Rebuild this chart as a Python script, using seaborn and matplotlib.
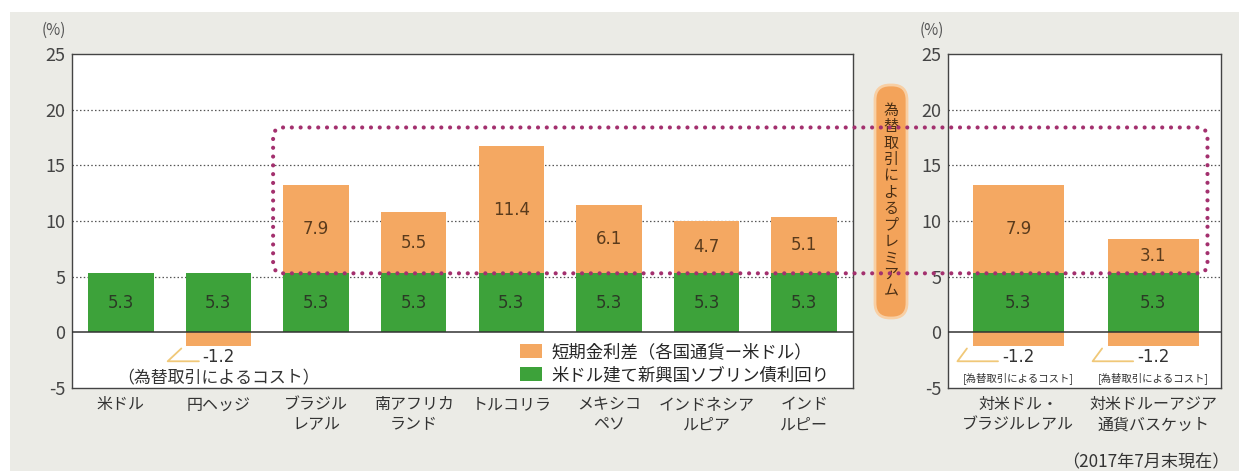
import matplotlib
matplotlib.use("Agg")
import matplotlib.pyplot as plt
import seaborn as sns
import pandas as pd
from matplotlib.patches import FancyBboxPatch, Rectangle, Patch
from matplotlib.transforms import IdentityTransform

# ---------------- data ----------------
left_categories = ["米ドル", "円ヘッジ", "ブラジル\nレアル", "南アフリカ\nランド", "トルコリラ",
                   "メキシコ\nペソ", "インドネシア\nルピア", "インド\nルピー"]
left_yield = [5.3, 5.3, 5.3, 5.3, 5.3, 5.3, 5.3, 5.3]
left_spread = [0.0, 0.0, 7.9, 5.5, 11.4, 6.1, 4.7, 5.1]
left_cost = [0.0, -1.2, 0.0, 0.0, 0.0, 0.0, 0.0, 0.0]

right_categories = ["対米ドル・\nブラジルレアル", "対米ドルーアジア\n通貨バスケット"]
right_yield = [5.3, 5.3]
right_spread = [7.9, 3.1]
right_cost = [-1.2, -1.2]

yticks = [-5, 0, 5, 10, 15, 20, 25]
grid_levels = [5, 10, 15, 20]
legend_labels = ["短期金利差（各国通貨ー米ドル）", "米ドル建て新興国ソブリン債利回り"]
cost_label_left = "（為替取引によるコスト）"
cost_label_right = "[為替取引によるコスト]"
premium_label = "為替取引によるプレミアム"
date_label = "（2017年7月末現在）"

GREEN = "#3da23a"
ORANGE = "#f4a862"
BG = "#ebebe6"

sns.set_style("white")
plt.rcParams["font.family"] = ["Noto Sans CJK JP", "DejaVu Sans"]
plt.rcParams["axes.unicode_minus"] = False

W, H = 1239, 471
fig = plt.figure(figsize=(W / 100, H / 100), dpi=100)
fig.patch.set_facecolor("white")
fig.add_artist(Rectangle((10 / W, 0), 1 - 10 / W, 1 - 12 / H, transform=fig.transFigure,
                         facecolor=BG, edgecolor="none", zorder=-5))

ax1 = fig.add_axes([72 / W, 1 - 388 / H, (853 - 72) / W, (388 - 54) / H])
ax2 = fig.add_axes([948 / W, 1 - 388 / H, (1221 - 948) / W, (388 - 54) / H])


def draw_panel(ax, cats, yld, spread, cost, xlim, cost_text, cost_fs, lead):
    df = pd.DataFrame({"cat": cats, "yield": yld, "spread": spread, "cost": cost})
    df["total"] = df["yield"] + df["spread"]
    kw = dict(x="cat", width=0.67, saturation=1, errorbar=None, ax=ax, linewidth=0)
    sns.barplot(data=df, y="total", color=ORANGE, zorder=2, **kw)
    sns.barplot(data=df, y="cost", color=ORANGE, zorder=2, **kw)
    sns.barplot(data=df, y="yield", color=GREEN, zorder=3, **kw)
    ax.set_xlim(*xlim)
    ax.set_ylim(yticks[0], yticks[-1])
    ax.set_yticks(yticks)
    ax.set_xlabel("")
    ax.set_ylabel("")
    for g in grid_levels:
        ax.axhline(g, color="#555555", lw=0.9, ls=(0, (1.2, 1.8)), zorder=1)
    ax.axhline(0, color="#333333", lw=1.1, zorder=4)
    for s in ax.spines.values():
        s.set_visible(True)
        s.set_color("#444444")
        s.set_linewidth(1.0)
    ax.tick_params(axis="y", labelsize=13, labelcolor="#444444", length=3, color="#444444", pad=2)
    ax.tick_params(axis="x", labelsize=11.5, labelcolor="#333333", length=0, pad=6)
    for lab in ax.get_xticklabels():
        lab.set_linespacing(1.25)
    for i, row in df.iterrows():
        ax.text(i, row["yield"] / 2, f"{row['yield']:.1f}", ha="center", va="center",
                fontsize=12, color="#2b3a25", family="DejaVu Sans", zorder=5)
        if row["spread"] > 0:
            ax.text(i, row["yield"] + row["spread"] / 2, f"{row['spread']:.1f}", ha="center",
                    va="center", fontsize=12, color="#5a3b1c", family="DejaVu Sans", zorder=5)
        if row["cost"] < 0:
            ax.text(i, row["cost"] - 1.05, f"{row['cost']:.1f}", ha="center", va="center",
                    fontsize=12, color="#333333", family="DejaVu Sans", zorder=5)
            ax.plot([i - lead[0], i - lead[1], i - lead[2]], [row["cost"] - 1.4, row["cost"] - 1.4,
                    row["cost"] - 0.25], color="#f0c878", lw=1.3, zorder=5)
            ax.text(i, row["cost"] - 2.9, cost_text, ha="center", va="center",
                    fontsize=cost_fs, color="#333333", zorder=5)


draw_panel(ax1, left_categories, left_yield, left_spread, left_cost, (-0.5, 7.5),
           cost_label_left, 12.2, (0.2, 0.52, 0.38))
draw_panel(ax2, right_categories, right_yield, right_spread, right_cost, (-0.52, 1.5),
           cost_label_right, 7.5, (0.15, 0.45, 0.38))

handles = [Patch(facecolor=ORANGE, edgecolor="none"), Patch(facecolor=GREEN, edgecolor="none")]
ax1.legend(handles, legend_labels, loc="lower left", bbox_to_anchor=(0.56, -0.02), frameon=False,
           fontsize=12.5, handlelength=1.3, handleheight=0.9, handletextpad=0.5,
           labelspacing=0.3, borderaxespad=0.2)

fig.text(54 / W, 1 - 30 / H, "(%)", ha="center", va="center", fontsize=11, color="#555555")
fig.text(932 / W, 1 - 30 / H, "(%)", ha="center", va="center", fontsize=11, color="#555555")
fig.text(1230 / W, 1 - 462 / H, date_label, ha="right", va="center", fontsize=12.3, color="#333333")

# vertical premium label
fig.add_artist(FancyBboxPatch((875, H - 318), 32, 233, boxstyle="round,pad=0,rounding_size=15",
                              transform=IdentityTransform(), facecolor="#f3a35a",
                              edgecolor="#f8cfa4", lw=2, zorder=3))
fig.text(891 / W, 1 - 201 / H, "\n".join(premium_label), ha="center", va="center",
         fontsize=10.8, color="#4a2e14", linespacing=1.22, zorder=4)

# dotted premium frame spanning both panels
fig.canvas.draw()
x0, y0 = ax1.transData.transform((1.56, left_yield[2]))
x1, y1 = ax2.transData.transform((1.40, 18.4))
fig.add_artist(FancyBboxPatch((x0, y0), x1 - x0, y1 - y0, boxstyle="round,pad=0,rounding_size=10",
                              transform=IdentityTransform(), facecolor="none",
                              edgecolor="#a3306e", lw=3, ls=(0, (0.01, 2.1)),
                              capstyle="round", zorder=6))

fig.savefig("out.png", dpi=100, facecolor=fig.get_facecolor())
